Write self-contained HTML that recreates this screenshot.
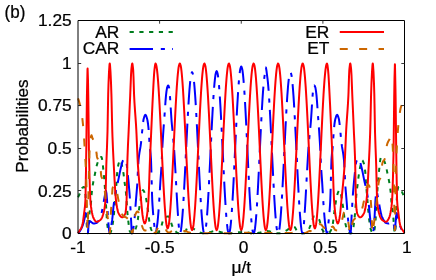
<!DOCTYPE html>
<html><head><meta charset="utf-8"><title>plot</title>
<style>
html,body{margin:0;padding:0;background:#fff;}
body{width:436px;height:280px;overflow:hidden;}
svg{display:block;will-change:transform;}
text{font-family:"Liberation Sans",sans-serif;font-size:16.6px;fill:#000;stroke:#000;stroke-width:0.25px;}
</style></head><body>
<svg width="436" height="280" viewBox="0 0 436 280">
<rect width="436" height="280" fill="#fff"/>
<g fill="none" stroke-width="2" stroke-linejoin="round" stroke-linecap="butt">
<path d="M78.00,197.29 L78.50,196.44 L79.00,195.40 L79.50,194.24 L80.00,193.03 L80.50,191.85 L81.00,190.59 L81.50,189.29 L82.00,188.26 L82.25,187.94 L82.50,187.71 L83.00,187.31 L83.50,187.03 L84.00,186.92 L84.50,187.95 L85.00,190.54 L85.20,191.85 L85.50,195.17 L86.00,204.60 L86.50,221.22 L86.60,223.30 L87.00,228.48 L87.50,232.71 L87.80,233.30 L88.00,232.61 L88.50,226.27 L88.60,225.00 L89.00,219.50 L89.50,213.10 L90.00,209.48 L90.50,206.67 L91.00,202.90 L91.50,195.62 L91.60,194.40 L92.00,190.62 L92.50,186.80 L92.90,184.20 L93.00,183.59 L93.50,180.86 L94.00,178.46 L94.50,176.15 L94.70,175.19 L95.00,173.70 L95.50,171.15 L96.00,168.68 L96.50,166.46 L96.75,165.50 L97.00,164.63 L97.50,163.01 L98.00,161.59 L98.50,160.40 L99.00,159.33 L99.50,158.37 L100.00,157.68 L100.20,157.51 L100.50,157.32 L101.00,157.07 L101.40,157.00 L101.50,157.06 L102.00,158.80 L102.30,160.40 L102.50,161.78 L103.00,166.52 L103.50,171.33 L104.00,176.55 L104.50,182.36 L104.75,185.56 L105.00,189.05 L105.50,196.69 L106.00,204.60 L106.50,213.41 L107.00,221.72 L107.25,224.49 L107.50,226.44 L108.00,229.54 L108.50,231.46 L109.00,232.63 L109.50,233.30 L109.75,233.30 L110.00,233.30 L110.50,232.71 L111.00,231.53 L111.50,230.05 L111.70,229.42 L112.00,228.27 L112.50,225.57 L113.00,222.12 L113.50,218.20 L114.00,213.30 L114.50,207.33 L115.00,201.20 L115.50,195.33 L116.00,189.31 L116.50,182.85 L116.60,181.48 L117.00,174.84 L117.20,172.30 L117.50,169.85 L118.00,166.50 L118.50,164.05 L119.00,162.44 L119.50,161.29 L120.00,160.41 L120.50,160.06 L121.00,160.99 L121.50,163.13 L122.00,165.50 L122.50,167.81 L123.00,170.47 L123.50,173.49 L124.00,177.24 L124.50,181.48 L124.75,183.52 L125.00,185.37 L125.50,188.85 L126.00,193.04 L126.50,199.62 L127.00,207.42 L127.30,211.40 L127.50,213.63 L128.00,218.67 L128.50,222.96 L129.00,226.99 L129.50,230.26 L129.75,231.12 L130.00,231.60 L130.50,232.43 L131.00,233.04 L131.50,233.30 L131.90,233.30 L132.00,233.30 L132.50,233.30 L133.00,233.04 L133.50,232.65 L134.00,232.11 L134.50,231.32 L135.00,230.32 L135.40,229.42 L135.50,229.18 L136.00,227.76 L136.50,226.01 L137.00,223.90 L137.50,221.45 L137.90,219.22 L138.00,218.57 L138.50,214.03 L139.00,209.53 L139.50,206.46 L140.00,203.80 L140.40,201.54 L140.50,200.90 L141.00,197.33 L141.50,194.40 L142.00,192.40 L142.50,190.80 L143.00,190.15 L143.50,190.56 L144.00,191.46 L144.20,191.85 L144.50,192.52 L145.00,194.00 L145.40,195.42 L145.50,195.81 L146.00,198.11 L146.50,200.87 L147.00,203.89 L147.25,205.45 L147.50,207.09 L148.00,210.68 L148.50,214.46 L149.00,218.71 L149.50,222.83 L149.75,224.32 L150.00,225.45 L150.50,227.39 L151.00,228.92 L151.50,230.10 L152.00,231.08 L152.50,231.94 L153.00,232.61 L153.50,232.99 L154.00,233.19 L154.50,233.30 L155.00,233.30 L155.50,233.30 L156.00,233.30 L156.50,233.20 L157.00,232.89 L157.50,232.52 L158.00,232.14 L158.50,231.72 L159.00,231.22 L159.50,230.61 L160.00,229.90 L160.40,229.25 L160.50,229.06 L161.00,227.73 L161.50,225.93 L162.00,223.92 L162.50,221.96 L163.00,220.31 L163.50,219.22 L164.00,218.53 L164.50,217.92 L165.00,217.42 L165.50,217.05 L166.00,216.84 L166.50,216.73 L167.00,216.63 L167.50,216.56 L168.00,216.52 L168.50,216.50 L169.00,216.93 L169.50,218.00 L170.00,219.38 L170.50,220.75 L171.00,222.20 L171.50,223.84 L172.00,225.38 L172.25,226.02 L172.50,226.59 L173.00,227.70 L173.50,228.73 L174.00,229.65 L174.50,230.40 L175.00,230.95 L175.50,231.37 L176.00,231.78 L176.50,232.15 L177.00,232.50 L177.50,232.80 L178.00,233.06 L178.50,233.26 L179.00,233.30 L179.50,233.30 L179.80,233.30 L180.00,233.30 L180.50,233.30 L181.00,233.30 L181.50,233.22 L182.00,233.05 L182.50,232.85 L183.00,232.61 L183.50,232.35 L184.00,232.07 L184.50,231.77 L185.00,231.46 L185.50,230.96 L186.00,230.19 L186.50,229.28 L187.00,228.34 L187.50,227.51 L188.00,226.92 L188.50,226.70 L189.00,226.73 L189.50,226.81 L190.00,226.92 L190.50,227.04 L191.00,227.21 L191.50,227.47 L192.00,227.77 L192.50,228.09 L193.00,228.40 L193.50,228.72 L194.00,229.07 L194.50,229.43 L195.00,229.78 L195.50,230.13 L196.00,230.44 L196.50,230.73 L197.00,231.03 L197.50,231.32 L198.00,231.59 L198.50,231.85 L199.00,232.09 L199.50,232.30 L200.00,232.48 L200.50,232.64 L201.00,232.81 L201.50,232.96 L202.00,233.11 L202.50,233.24 L203.00,233.30 L203.50,233.30 L204.00,233.30 L204.40,233.30 L204.50,233.30 L205.00,233.30 L205.50,233.30 L206.00,233.30 L206.50,233.18 L207.00,233.04 L207.50,232.88 L208.00,232.72 L208.50,232.56 L209.00,232.41 L209.50,232.26 L210.00,232.14 L210.50,232.02 L211.00,231.88 L211.50,231.74 L212.00,231.60 L212.50,231.47 L213.00,231.35 L213.50,231.25 L214.00,231.17 L214.50,231.13 L214.80,231.12 L215.00,231.12 L215.50,231.14 L216.00,231.19 L216.50,231.25 L217.00,231.31 L217.50,231.39 L218.00,231.46 L218.50,231.54 L219.00,231.65 L219.50,231.77 L220.00,231.90 L220.50,232.03 L221.00,232.17 L221.50,232.31 L222.00,232.43 L222.50,232.55 L223.00,232.65 L223.50,232.74 L224.00,232.84 L224.50,232.94 L225.00,233.03 L225.50,233.13 L226.00,233.22 L226.50,233.30 L227.00,233.30 L227.50,233.30 L228.00,233.30 L228.50,233.30 L228.90,233.30 L229.00,233.30 L229.50,233.30 L230.00,233.30 L230.50,233.30 L231.00,233.26 L231.50,233.15 L232.00,233.04 L232.50,232.93 L233.00,232.81 L233.50,232.70 L234.00,232.61 L234.50,232.53 L235.00,232.48 L235.50,232.44 L236.00,232.40 L236.50,232.36 L237.00,232.32 L237.50,232.29 L238.00,232.25 L238.50,232.22 L239.00,232.20 L239.50,232.18 L240.00,232.16 L240.50,232.15 L241.00,232.14 L241.25,232.14 L241.50,232.14 L242.00,232.15 L242.50,232.16 L243.00,232.18 L243.50,232.20 L244.00,232.22 L244.50,232.25 L245.00,232.29 L245.50,232.32 L246.00,232.36 L246.50,232.40 L247.00,232.44 L247.50,232.48 L248.00,232.53 L248.50,232.61 L249.00,232.70 L249.50,232.81 L250.00,232.93 L250.50,233.04 L251.00,233.15 L251.50,233.26 L252.00,233.30 L252.50,233.30 L253.00,233.30 L253.50,233.30 L253.60,233.30 L254.00,233.30 L254.50,233.30 L255.00,233.30 L255.50,233.30 L256.00,233.30 L256.50,233.22 L257.00,233.13 L257.50,233.03 L258.00,232.94 L258.50,232.84 L259.00,232.74 L259.50,232.65 L260.00,232.55 L260.50,232.43 L261.00,232.31 L261.50,232.17 L262.00,232.03 L262.50,231.90 L263.00,231.77 L263.50,231.65 L264.00,231.54 L264.50,231.46 L265.00,231.39 L265.50,231.31 L266.00,231.25 L266.50,231.19 L267.00,231.14 L267.50,231.12 L267.70,231.12 L268.00,231.13 L268.50,231.17 L269.00,231.25 L269.50,231.35 L270.00,231.47 L270.50,231.60 L271.00,231.74 L271.50,231.88 L272.00,232.02 L272.50,232.14 L273.00,232.26 L273.50,232.41 L274.00,232.56 L274.50,232.72 L275.00,232.88 L275.50,233.04 L276.00,233.18 L276.50,233.30 L277.00,233.30 L277.50,233.30 L278.00,233.30 L278.10,233.30 L278.50,233.30 L279.00,233.30 L279.50,233.30 L280.00,233.24 L280.50,233.11 L281.00,232.96 L281.50,232.81 L282.00,232.64 L282.50,232.48 L283.00,232.30 L283.50,232.09 L284.00,231.85 L284.50,231.59 L285.00,231.32 L285.50,231.03 L286.00,230.73 L286.50,230.44 L287.00,230.13 L287.50,229.78 L288.00,229.43 L288.50,229.07 L289.00,228.72 L289.50,228.40 L290.00,228.09 L290.50,227.77 L291.00,227.47 L291.50,227.21 L292.00,227.04 L292.50,226.92 L293.00,226.81 L293.50,226.73 L294.00,226.70 L294.50,226.92 L295.00,227.51 L295.50,228.34 L296.00,229.28 L296.50,230.19 L297.00,230.96 L297.50,231.46 L298.00,231.77 L298.50,232.07 L299.00,232.35 L299.50,232.61 L300.00,232.85 L300.50,233.05 L301.00,233.22 L301.50,233.30 L302.00,233.30 L302.50,233.30 L302.70,233.30 L303.00,233.30 L303.50,233.30 L304.00,233.26 L304.50,233.06 L305.00,232.80 L305.50,232.50 L306.00,232.15 L306.50,231.78 L307.00,231.37 L307.50,230.95 L308.00,230.40 L308.50,229.65 L309.00,228.73 L309.50,227.70 L310.00,226.59 L310.25,226.02 L310.50,225.38 L311.00,223.84 L311.50,222.20 L312.00,220.75 L312.50,219.38 L313.00,218.00 L313.50,216.93 L314.00,216.50 L314.50,216.52 L315.00,216.56 L315.50,216.63 L316.00,216.73 L316.50,216.84 L317.00,217.05 L317.50,217.42 L318.00,217.92 L318.50,218.53 L319.00,219.22 L319.50,220.31 L320.00,221.96 L320.50,223.92 L321.00,225.93 L321.50,227.73 L322.00,229.06 L322.10,229.25 L322.50,229.90 L323.00,230.61 L323.50,231.22 L324.00,231.72 L324.50,232.14 L325.00,232.52 L325.50,232.89 L326.00,233.20 L326.50,233.30 L327.00,233.30 L327.50,233.30 L328.00,233.30 L328.50,233.19 L329.00,232.99 L329.50,232.61 L330.00,231.94 L330.50,231.08 L331.00,230.10 L331.50,228.92 L332.00,227.39 L332.50,225.45 L332.75,224.32 L333.00,222.83 L333.50,218.71 L334.00,214.46 L334.50,210.68 L335.00,207.09 L335.25,205.45 L335.50,203.89 L336.00,200.87 L336.50,198.11 L337.00,195.81 L337.10,195.42 L337.50,194.00 L338.00,192.52 L338.30,191.85 L338.50,191.46 L339.00,190.56 L339.50,190.15 L340.00,190.80 L340.50,192.40 L341.00,194.40 L341.50,197.33 L342.00,200.90 L342.10,201.54 L342.50,203.80 L343.00,206.46 L343.50,209.53 L344.00,214.03 L344.50,218.57 L344.60,219.22 L345.00,221.45 L345.50,223.90 L346.00,226.01 L346.50,227.76 L347.00,229.18 L347.10,229.42 L347.50,230.32 L348.00,231.32 L348.50,232.11 L349.00,232.65 L349.50,233.04 L350.00,233.30 L350.50,233.30 L350.60,233.30 L351.00,233.30 L351.50,233.04 L352.00,232.43 L352.50,231.60 L352.75,231.12 L353.00,230.26 L353.50,226.99 L354.00,222.96 L354.50,218.67 L355.00,213.63 L355.20,211.40 L355.50,207.42 L356.00,199.62 L356.50,193.04 L357.00,188.85 L357.50,185.37 L357.75,183.52 L358.00,181.48 L358.50,177.24 L359.00,173.49 L359.50,170.47 L360.00,167.81 L360.50,165.50 L361.00,163.13 L361.50,160.99 L362.00,160.06 L362.50,160.41 L363.00,161.29 L363.50,162.44 L364.00,164.05 L364.50,166.50 L365.00,169.85 L365.30,172.30 L365.50,174.84 L365.90,181.48 L366.00,182.85 L366.50,189.31 L367.00,195.33 L367.50,201.20 L368.00,207.33 L368.50,213.30 L369.00,218.20 L369.50,222.12 L370.00,225.57 L370.50,228.27 L370.80,229.42 L371.00,230.05 L371.50,231.53 L372.00,232.71 L372.50,233.30 L372.75,233.30 L373.00,233.30 L373.50,232.63 L374.00,231.46 L374.50,229.54 L375.00,226.44 L375.25,224.49 L375.50,221.72 L376.00,213.41 L376.50,204.60 L377.00,196.69 L377.50,189.05 L377.75,185.56 L378.00,182.36 L378.50,176.55 L379.00,171.33 L379.50,166.52 L380.00,161.78 L380.20,160.40 L380.50,158.80 L381.00,157.06 L381.10,157.00 L381.50,157.07 L382.00,157.32 L382.30,157.51 L382.50,157.68 L383.00,158.37 L383.50,159.33 L384.00,160.40 L384.50,161.59 L385.00,163.01 L385.50,164.63 L385.75,165.50 L386.00,166.46 L386.50,168.68 L387.00,171.15 L387.50,173.70 L387.80,175.19 L388.00,176.15 L388.50,178.46 L389.00,180.86 L389.50,183.59 L389.60,184.20 L390.00,186.80 L390.50,190.62 L390.90,194.40 L391.00,195.62 L391.50,202.90 L392.00,206.67 L392.50,209.48 L393.00,213.10 L393.50,219.50 L393.90,225.00 L394.00,226.27 L394.50,232.61 L394.70,233.30 L395.00,232.71 L395.50,228.48 L395.90,223.30 L396.00,221.22 L396.50,204.60 L397.00,195.17 L397.30,191.85 L397.50,190.54 L398.00,187.95 L398.50,186.92 L399.00,187.03 L399.50,187.31 L400.00,187.71 L400.25,187.94 L400.50,188.26 L401.00,189.29 L401.50,190.59 L402.00,191.85 L402.50,193.03 L403.00,194.24 L403.50,195.40 L404.00,196.44 L404.50,197.29" stroke="#007d1e" stroke-dasharray="4.2 5.55"/>
<path d="M78.00,233.30 L78.50,233.00 L79.00,232.40 L79.50,231.71 L80.00,230.95 L80.50,230.11 L81.00,229.19 L81.50,228.17 L82.00,227.04 L82.50,225.81 L83.00,224.45 L83.50,222.96 L84.00,221.09 L84.50,218.81 L85.00,216.50 L85.50,213.74 L85.75,213.10 L86.00,213.75 L86.50,217.38 L86.60,218.20 L87.00,223.59 L87.50,231.56 L87.80,233.30 L88.00,232.37 L88.50,225.77 L88.60,225.00 L89.00,223.01 L89.50,221.34 L89.75,221.09 L90.00,221.14 L90.50,221.44 L91.00,221.88 L91.50,222.28 L92.00,222.64 L92.50,223.03 L93.00,223.34 L93.50,223.47 L94.00,223.45 L94.50,223.41 L95.00,223.34 L95.50,223.25 L96.00,223.13 L96.50,222.99 L96.60,222.96 L97.00,222.74 L97.50,222.23 L98.00,221.53 L98.50,220.73 L99.00,219.90 L99.50,219.03 L100.00,218.04 L100.50,216.87 L101.00,215.48 L101.50,213.61 L102.00,211.22 L102.50,208.58 L102.90,206.47 L103.00,205.95 L103.50,203.11 L104.00,200.14 L104.50,197.34 L104.75,196.10 L105.00,194.82 L105.50,192.23 L106.00,191.00 L106.50,193.77 L107.00,199.50 L107.50,208.99 L107.90,216.50 L108.00,217.80 L108.50,224.23 L109.00,229.71 L109.50,233.03 L109.75,233.30" stroke="#0000ff" stroke-dasharray="23.4 7.8 4.1 7.3"/>
<path d="M109.75,233.30 L110.00,233.02 L110.50,230.12 L111.00,226.70 L111.50,223.95 L112.00,220.98 L112.25,219.22 L112.50,217.02 L113.00,211.56 L113.50,206.47 L114.00,202.48 L114.50,198.87 L115.00,195.61 L115.50,192.70 L116.00,190.15 L116.50,187.89 L117.00,185.78 L117.50,183.69 L118.00,181.48 L118.50,179.09 L119.00,176.60 L119.50,174.08 L120.00,171.62 L120.50,169.30 L121.00,167.20 L121.50,165.19 L122.00,163.23 L122.50,161.56 L123.00,160.40 L123.50,159.59 L124.00,158.96 L124.50,158.70 L125.00,159.03 L125.50,159.91 L126.00,161.20 L126.30,162.10 L126.50,162.95 L127.00,166.66 L127.50,171.64 L127.90,175.70 L128.00,176.67 L128.50,181.65 L129.00,187.05 L129.50,193.10 L129.75,196.44 L130.00,200.23 L130.50,209.11 L131.00,218.20 L131.50,228.82 L131.90,233.30 L132.00,233.30 L132.50,232.21 L133.00,230.10 L133.50,227.35 L134.00,223.55 L134.50,218.99 L134.75,216.50 L135.00,213.56 L135.50,206.38 L135.75,202.90 L136.00,199.78 L136.50,193.95 L137.00,187.76 L137.25,184.20 L137.50,179.73 L138.00,168.89 L138.50,160.40 L139.00,155.84 L139.50,152.45 L140.00,149.61 L140.50,146.69 L141.00,143.06 L141.50,138.24 L142.00,132.95 L142.25,130.48 L142.50,128.02 L143.00,123.04 L143.50,119.60 L144.00,117.69 L144.50,116.12 L145.00,115.12 L145.40,114.84 L145.50,114.86 L146.00,115.47 L146.50,116.75 L147.00,118.46 L147.30,119.60 L147.50,120.50 L148.00,123.75 L148.50,128.10 L149.00,134.83 L149.50,143.01 L149.75,146.46 L150.00,149.05 L150.50,153.17 L151.00,159.21 L151.50,175.56 L151.60,179.10 L152.00,193.58 L152.25,200.52 L152.50,205.00 L153.00,212.13 L153.50,217.62 L154.00,222.36 L154.10,223.30 L154.50,227.42 L155.00,232.00 L155.40,233.30 L155.50,233.30 L156.00,232.14 L156.50,229.47 L157.00,226.08 L157.25,224.32 L157.50,222.35 L158.00,217.25 L158.50,211.05 L159.00,204.27 L159.10,202.90 L159.50,196.73 L160.00,188.08 L160.40,181.48 L160.50,180.00 L161.00,173.32 L161.50,166.06 L161.60,164.31 L162.00,154.94 L162.25,149.18 L162.50,144.56 L163.00,136.42 L163.40,130.48 L163.50,129.04 L164.00,122.31 L164.50,115.83 L164.60,114.50 L165.00,108.71 L165.50,101.32 L166.00,95.46 L166.50,91.21 L167.00,88.06 L167.20,87.30 L167.50,86.47 L168.00,85.53 L168.20,85.43 L168.50,85.74 L169.00,87.29 L169.20,88.15 L169.50,90.58 L169.90,95.46 L170.00,96.72 L170.50,104.19 L171.00,112.48 L171.50,120.02 L171.60,121.30 L172.00,125.78 L172.50,130.74 L172.90,134.90 L173.00,136.01 L173.50,141.64 L174.00,147.82 L174.10,149.18 L174.50,155.31 L175.00,163.80 L175.50,172.54 L176.00,181.48 L176.50,190.58 L177.00,199.67 L177.50,208.00 L178.00,215.77 L178.50,222.96 L179.00,228.40 L179.50,232.48 L179.80,233.30 L180.00,233.30 L180.50,232.01 L180.83,230.75 L181.00,229.88 L181.50,226.02 L181.85,222.69 L182.00,221.16 L182.50,215.06 L182.88,209.87 L183.00,208.06 L183.50,200.08 L183.90,193.17 L184.00,191.39 L184.50,182.03 L184.93,173.71 L185.00,172.23 L185.50,162.08 L185.95,152.83 L186.00,151.81 L186.50,141.53 L186.98,131.96 L187.00,131.47 L187.50,121.72 L188.00,112.50 L188.50,103.92 L189.00,96.15 L189.03,95.80 L189.50,89.29 L190.00,83.47 L190.05,82.98 L190.50,78.76 L191.00,75.25 L191.08,74.92 L191.50,73.31 L192.00,72.21 L192.10,72.17 L192.50,72.72 L193.00,74.42 L193.12,74.92 L193.50,77.13 L194.00,81.53 L194.15,82.98 L194.50,86.79 L195.00,93.34 L195.18,95.80 L195.50,100.68 L196.00,109.01 L196.20,112.50 L196.50,117.94 L197.00,127.54 L197.23,131.96 L197.50,137.45 L198.00,147.71 L198.25,152.83 L198.50,157.96 L199.00,168.22 L199.28,173.71 L199.50,178.13 L200.00,187.73 L200.30,193.17 L200.50,196.66 L201.00,204.99 L201.33,209.87 L201.50,212.33 L202.00,218.88 L202.35,222.69 L202.50,224.14 L203.00,228.54 L203.38,230.75 L203.50,231.25 L204.00,232.95 L204.40,233.30 L204.50,233.30 L205.00,232.34 L205.42,230.73 L205.50,230.38 L206.00,226.81 L206.44,222.62 L206.50,222.04 L207.00,216.13 L207.46,209.72 L207.50,209.18 L208.00,201.30 L208.48,192.91 L208.50,192.62 L209.00,183.27 L209.50,173.42 L209.50,173.33 L210.00,163.23 L210.50,152.84 L210.53,152.33 L211.00,142.46 L211.50,132.23 L211.55,131.32 L212.00,122.35 L212.50,112.93 L212.57,111.74 L213.00,104.19 L213.50,96.20 L213.59,94.93 L214.00,89.18 L214.50,83.13 L214.61,82.03 L215.00,78.28 L215.50,74.53 L215.63,73.92 L216.00,72.48 L216.50,71.24 L216.65,71.15 L217.00,71.58 L217.50,73.23 L217.67,73.92 L218.00,75.81 L218.50,80.16 L218.69,82.03 L219.00,85.38 L219.50,91.92 L219.71,94.93 L220.00,99.27 L220.50,107.63 L220.73,111.74 L221.00,116.60 L221.50,126.27 L221.75,131.32 L222.00,136.27 L222.50,146.63 L222.78,152.32 L223.00,156.98 L223.50,167.35 L223.80,173.33 L224.00,177.39 L224.50,187.10 L224.82,192.91 L225.00,196.14 L225.50,204.59 L225.84,209.72 L226.00,212.03 L226.50,218.67 L226.86,222.62 L227.00,224.01 L227.50,228.47 L227.88,230.73 L228.00,231.22 L228.50,232.94 L228.90,233.30 L229.00,233.30 L229.50,232.33 L229.93,230.66 L230.00,230.33 L230.50,226.74 L230.96,222.32 L231.00,221.90 L231.50,215.92 L231.99,209.05 L232.00,208.87 L232.50,200.89 L233.00,192.07 L233.02,191.76 L233.50,182.60 L234.00,172.56 L234.05,171.63 L234.50,162.21 L235.00,151.61 L235.07,150.03 L235.50,141.03 L236.00,130.55 L236.10,128.43 L236.50,120.44 L237.00,110.74 L237.13,108.30 L237.50,101.76 L238.00,93.45 L238.16,91.01 L238.50,86.18 L239.00,79.79 L239.19,77.74 L239.50,74.71 L240.00,70.58 L240.22,69.40 L240.50,68.28 L241.00,66.79 L241.25,66.56 L241.50,66.79 L242.00,68.28 L242.28,69.40 L242.50,70.58 L243.00,74.71 L243.31,77.74 L243.50,79.79 L244.00,86.18 L244.34,91.01 L244.50,93.45 L245.00,101.76 L245.37,108.30 L245.50,110.74 L246.00,120.44 L246.40,128.43 L246.50,130.55 L247.00,141.03 L247.43,150.03 L247.50,151.61 L248.00,162.21 L248.45,171.63 L248.50,172.56 L249.00,182.60 L249.48,191.76 L249.50,192.07 L250.00,200.89 L250.50,208.87 L250.51,209.05 L251.00,215.92 L251.50,221.90 L251.54,222.32 L252.00,226.74 L252.50,230.33 L252.57,230.66 L253.00,232.33 L253.50,233.30 L253.60,233.30 L254.00,232.94 L254.50,231.22 L254.62,230.73 L255.00,228.47 L255.50,224.01 L255.64,222.62 L256.00,218.67 L256.50,212.03 L256.66,209.72 L257.00,204.59 L257.50,196.14 L257.68,192.91 L258.00,187.10 L258.50,177.39 L258.70,173.33 L259.00,167.35 L259.50,156.98 L259.73,152.32 L260.00,146.63 L260.50,136.27 L260.75,131.32 L261.00,126.27 L261.50,116.60 L261.77,111.74 L262.00,107.63 L262.50,99.27 L262.79,94.93 L263.00,91.92 L263.50,85.38 L263.81,82.03 L264.00,80.25 L264.50,76.25 L264.83,73.92 L265.00,72.62 L265.50,68.75 L265.85,67.58 L266.00,67.82 L266.50,70.97 L266.87,73.92 L267.00,74.82 L267.50,78.55 L267.89,82.03 L268.00,83.13 L268.50,89.18 L268.91,94.93 L269.00,96.20 L269.50,104.19 L269.93,111.74 L270.00,112.93 L270.50,122.35 L270.95,131.32 L271.00,132.23 L271.50,142.46 L271.98,152.33 L272.00,152.84 L272.50,163.23 L273.00,173.33 L273.00,173.42 L273.50,183.27 L274.00,192.62 L274.02,192.91 L274.50,201.30 L275.00,209.18 L275.04,209.72 L275.50,216.13 L276.00,222.04 L276.06,222.62 L276.50,226.81 L277.00,230.38 L277.08,230.73 L277.50,232.34 L278.00,233.30 L278.10,233.30 L278.50,232.95 L279.00,231.25 L279.12,230.75 L279.50,228.54 L280.00,224.14 L280.15,222.69 L280.50,218.88 L281.00,212.33 L281.17,209.87 L281.50,204.99 L282.00,196.66 L282.20,193.17 L282.50,187.73 L283.00,178.13 L283.23,173.71 L283.50,168.22 L284.00,157.96 L284.25,152.83 L284.50,147.71 L285.00,137.45 L285.27,131.96 L285.50,127.54 L286.00,117.94 L286.30,112.50 L286.50,109.01 L287.00,100.68 L287.32,95.80 L287.50,93.34 L288.00,86.79 L288.35,82.98 L288.50,81.53 L289.00,77.13 L289.38,74.92 L289.50,74.42 L290.00,72.72 L290.40,72.17 L290.50,72.21 L291.00,73.31 L291.42,74.92 L291.50,75.25 L292.00,78.76 L292.45,82.98 L292.50,83.47 L293.00,89.29 L293.48,95.80 L293.50,96.15 L294.00,103.92 L294.50,112.50 L295.00,121.72 L295.50,131.47 L295.52,131.96 L296.00,141.53 L296.50,151.81 L296.55,152.83 L297.00,162.08 L297.50,172.23 L297.57,173.71 L298.00,182.03 L298.50,191.39 L298.60,193.17 L299.00,200.08 L299.50,208.06 L299.62,209.87 L300.00,215.06 L300.50,221.16 L300.65,222.69 L301.00,226.02 L301.50,229.88 L301.67,230.75 L302.00,232.01 L302.50,233.30 L302.70,233.30 L303.00,232.48 L303.50,228.40 L304.00,222.96 L304.50,215.77 L305.00,208.00 L305.50,199.67 L306.00,190.58 L306.50,181.48 L307.00,172.54 L307.50,163.80 L308.00,155.31 L308.40,149.18 L308.50,147.82 L309.00,141.64 L309.50,136.01 L309.60,134.90 L310.00,130.74 L310.50,125.78 L310.90,121.30 L311.00,120.02 L311.50,112.48 L312.00,104.19 L312.50,96.72 L312.60,95.46 L313.00,90.58 L313.30,88.15 L313.50,87.29 L314.00,85.74 L314.30,85.43 L314.50,85.53 L315.00,86.47 L315.30,87.30 L315.50,88.06 L316.00,91.21 L316.50,95.46 L317.00,101.32 L317.50,108.71 L317.90,114.50 L318.00,115.83 L318.50,122.31 L319.00,129.04 L319.10,130.48 L319.50,136.42 L320.00,144.56 L320.25,149.18 L320.50,154.94 L320.90,164.31 L321.00,166.06 L321.50,173.32 L322.00,180.00 L322.10,181.48 L322.50,188.08 L323.00,196.73 L323.40,202.90 L323.50,204.27 L324.00,211.05 L324.50,217.25 L325.00,222.35 L325.25,224.32 L325.50,226.08 L326.00,229.47 L326.50,232.14 L327.00,233.30 L327.10,233.30 L327.50,232.00 L328.00,227.42 L328.40,223.30 L328.50,222.36 L329.00,217.62 L329.50,212.13 L330.00,205.00 L330.25,200.52 L330.50,193.58 L330.90,179.10 L331.00,175.56 L331.50,159.21 L332.00,153.17 L332.50,149.05 L332.75,146.46 L333.00,143.01 L333.50,134.83 L334.00,128.10 L334.50,123.75 L335.00,120.50 L335.20,119.60 L335.50,118.46 L336.00,116.75 L336.50,115.47 L337.00,114.86 L337.10,114.84 L337.50,115.12 L338.00,116.12 L338.50,117.69 L339.00,119.60 L339.50,123.04 L340.00,128.02 L340.25,130.48 L340.50,132.95 L341.00,138.24 L341.50,143.06 L342.00,146.69 L342.50,149.61 L343.00,152.45 L343.50,155.84 L344.00,160.40 L344.50,168.89 L345.00,179.73 L345.25,184.20 L345.50,187.76 L346.00,193.95 L346.50,199.78 L346.75,202.90 L347.00,206.38 L347.50,213.56 L347.75,216.50 L348.00,218.99 L348.50,223.55 L349.00,227.35 L349.50,230.10 L350.00,232.21 L350.50,233.30 L350.60,233.30 L351.00,228.82 L351.50,218.20 L352.00,209.11 L352.50,200.23 L352.75,196.44 L353.00,193.10 L353.50,187.05 L354.00,181.65 L354.50,176.67 L354.60,175.70 L355.00,171.64 L355.50,166.66 L356.00,162.95 L356.20,162.10 L356.50,161.20 L357.00,159.91 L357.50,159.03 L358.00,158.70 L358.50,158.96 L359.00,159.59 L359.50,160.40 L360.00,161.56 L360.50,163.23 L361.00,165.19 L361.50,167.20 L362.00,169.30 L362.50,171.62 L363.00,174.08 L363.50,176.60 L364.00,179.09 L364.50,181.48 L365.00,183.69 L365.50,185.78 L366.00,187.89 L366.50,190.15 L367.00,192.70 L367.50,195.61 L368.00,198.87 L368.50,202.48 L369.00,206.47 L369.50,211.56 L370.00,217.02 L370.25,219.22 L370.50,220.98 L371.00,223.95 L371.50,226.70 L372.00,230.12 L372.50,233.02 L372.75,233.30 L373.00,233.03 L373.50,229.71 L374.00,224.23 L374.50,217.80 L374.60,216.50 L375.00,208.99 L375.50,199.50 L376.00,193.77 L376.50,191.00 L377.00,192.23 L377.50,194.82 L377.75,196.10 L378.00,197.34 L378.50,200.14 L379.00,203.11 L379.50,205.95 L379.60,206.47 L380.00,208.58 L380.50,211.22 L381.00,213.61 L381.50,215.48 L382.00,216.87 L382.50,218.04 L383.00,219.03 L383.50,219.90 L384.00,220.73 L384.50,221.53 L385.00,222.23 L385.50,222.74 L385.90,222.96 L386.00,222.99 L386.50,223.13 L387.00,223.25 L387.50,223.34 L388.00,223.41 L388.50,223.45 L389.00,223.47 L389.50,223.34 L390.00,223.03 L390.50,222.64 L391.00,222.28 L391.50,221.88 L392.00,221.44 L392.50,221.14 L392.75,221.09 L393.00,221.34 L393.50,223.01 L393.90,225.00 L394.00,225.77 L394.50,232.37 L394.70,233.30 L395.00,231.56 L395.50,223.59 L395.90,218.20 L396.00,217.38 L396.50,213.75 L396.75,213.10 L397.00,213.74 L397.50,216.50 L398.00,218.81 L398.50,221.09 L399.00,222.96 L399.50,224.45 L400.00,225.81 L400.50,227.04 L401.00,228.17 L401.50,229.19 L402.00,230.11 L402.50,230.95 L403.00,231.71 L403.50,232.40 L404.00,233.00 L404.50,233.30" stroke="#0000ff" stroke-dasharray="23.4 7.8 4.1 7.3" stroke-dashoffset="34.1"/>
<path d="M78.00,232.99 L78.50,232.25 L79.00,231.46 L79.50,230.69 L80.00,229.98 L80.50,229.25 L81.00,228.42 L81.50,227.44 L82.00,226.23 L82.25,225.51 L82.50,224.56 L83.00,221.69 L83.50,217.96 L84.00,213.91 L84.10,213.10 L84.50,210.20 L85.00,206.00 L85.40,200.52 L85.50,198.06 L86.00,170.12 L86.30,148.50 L86.50,131.57 L86.90,97.50 L87.00,91.78 L87.50,69.51 L87.60,68.60 L88.00,80.63 L88.30,97.50 L88.50,113.38 L88.90,148.50 L89.00,153.65 L89.50,176.23 L90.00,192.66 L90.40,200.52 L90.50,201.78 L91.00,206.69 L91.50,209.99 L91.60,210.55 L92.00,212.65 L92.50,214.93 L93.00,216.76 L93.50,218.03 L94.00,218.97 L94.50,219.83 L95.00,220.58 L95.50,221.18 L96.00,221.58 L96.50,221.76 L96.60,221.77 L97.00,221.74 L97.50,221.64 L98.00,221.46 L98.50,221.22 L99.00,220.92 L99.50,220.56 L100.00,220.15 L100.50,219.70 L101.00,219.22 L101.50,218.56 L102.00,217.60 L102.50,216.34 L103.00,214.81 L103.50,213.02 L104.00,210.98 L104.10,210.55 L104.50,208.59 L105.00,204.98 L105.40,200.52 L105.50,198.58 L106.00,178.09 L106.30,165.50 L106.50,159.45 L107.00,146.75 L107.50,131.50 L108.00,103.70 L108.20,94.10 L108.50,83.93 L109.00,72.00 L109.50,64.81 L109.75,63.50 L110.00,64.85 L110.50,72.00 L111.00,82.59 L111.40,94.10 L111.50,97.52 L112.00,119.85 L112.30,131.50 L112.50,137.23 L113.00,149.50 L113.50,159.78 L113.80,165.50 L114.00,169.31 L114.50,178.86 L115.00,187.78 L115.50,195.27 L116.00,200.52 L116.50,204.15 L117.00,207.27 L117.50,209.83 L118.00,211.79 L118.50,213.10 L119.00,214.03 L119.50,214.88 L120.00,215.64 L120.50,216.28 L121.00,216.78 L121.50,217.14 L122.00,217.33 L122.25,217.35 L122.50,217.32 L123.00,217.11 L123.50,216.68 L124.00,216.04 L124.50,215.18 L125.00,214.11 L125.40,213.10 L125.50,212.77 L126.00,209.25 L126.50,202.34 L126.60,200.52 L127.00,182.50 L127.30,164.31 L127.50,157.31 L128.00,144.46 L128.50,134.26 L128.70,129.80 L129.00,122.77 L129.50,111.33 L130.00,100.02 L130.20,95.46 L130.50,87.88 L131.00,75.24 L131.30,70.30 L131.50,68.18 L132.00,64.14 L132.25,63.50 L132.50,64.11 L133.00,68.09 L133.20,70.30 L133.50,76.96 L134.00,93.06 L134.10,95.46 L134.50,102.95 L135.00,110.56 L135.50,117.40 L136.00,124.69 L136.30,129.80 L136.50,133.77 L137.00,145.39 L137.50,157.13 L137.90,164.65 L138.00,166.16 L138.50,173.10 L139.00,179.17 L139.50,184.62 L140.00,189.66 L140.50,194.54 L141.00,199.50 L141.50,204.85 L142.00,210.26 L142.50,214.96 L143.00,218.20 L143.50,220.39 L144.00,222.22 L144.50,223.32 L144.75,223.47 L145.00,223.32 L145.50,222.22 L146.00,220.39 L146.50,218.20 L147.00,215.37 L147.50,211.34 L148.00,206.07 L148.50,199.50 L149.00,187.93 L149.50,172.46 L149.75,165.50 L150.00,159.37 L150.50,147.68 L151.00,136.46 L151.30,129.80 L151.50,125.33 L152.00,114.15 L152.50,103.39 L152.90,95.46 L153.00,93.56 L153.50,83.81 L154.00,75.14 L154.40,70.30 L154.50,69.41 L155.00,65.34 L155.50,63.50 L156.00,64.36 L156.50,66.26 L156.51,66.31 L157.00,69.53 L157.50,74.30 L157.53,74.55 L158.00,80.10 L158.50,87.10 L158.54,87.65 L159.00,95.00 L159.50,103.82 L159.55,104.73 L160.00,113.28 L160.50,123.34 L160.56,124.61 L161.00,133.73 L161.50,144.37 L161.57,145.95 L162.00,154.98 L162.50,165.50 L162.59,167.29 L163.00,175.64 L163.50,185.34 L163.60,187.17 L164.00,194.32 L164.50,202.57 L164.61,204.25 L165.00,209.79 L165.50,216.04 L165.62,217.35 L166.00,221.03 L166.50,224.91 L166.64,225.59 L167.00,227.03 L167.50,228.31 L167.65,228.40 L168.00,227.95 L168.50,226.26 L168.66,225.59 L169.00,223.58 L169.50,219.10 L169.68,217.35 L170.00,213.71 L170.50,206.97 L170.69,204.25 L171.00,199.40 L171.50,190.78 L171.70,187.17 L172.00,181.55 L172.50,171.61 L172.71,167.29 L173.00,161.34 L173.50,150.72 L173.73,145.95 L174.00,140.11 L174.50,129.51 L174.74,124.61 L175.00,119.28 L175.50,109.39 L175.75,104.73 L176.00,100.22 L176.50,91.69 L176.76,87.65 L177.00,84.21 L177.50,77.58 L177.78,74.55 L178.00,72.31 L178.50,67.95 L178.79,66.31 L179.00,65.44 L179.50,63.83 L179.80,63.50 L180.00,63.65 L180.50,65.04 L180.83,66.34 L181.00,67.23 L181.50,71.22 L181.85,74.66 L182.00,76.24 L182.50,82.54 L182.88,87.90 L183.00,89.77 L183.50,98.02 L183.90,105.15 L184.00,106.98 L184.50,116.66 L184.93,125.24 L185.00,126.77 L185.50,137.25 L185.95,146.80 L186.00,147.85 L186.50,158.47 L186.98,168.36 L187.00,168.87 L187.50,178.93 L188.00,188.45 L188.50,197.31 L189.00,205.33 L189.03,205.70 L189.50,212.42 L190.00,218.43 L190.05,218.94 L190.50,223.30 L191.00,226.92 L191.08,227.26 L191.50,228.92 L192.00,230.06 L192.10,230.10 L192.50,229.53 L193.00,227.78 L193.12,227.26 L193.50,224.98 L194.00,220.43 L194.15,218.94 L194.50,215.00 L195.00,208.24 L195.18,205.70 L195.50,200.66 L196.00,192.05 L196.20,188.45 L196.50,182.84 L197.00,172.92 L197.23,168.36 L197.50,162.68 L198.00,152.09 L198.25,146.80 L198.50,141.51 L199.00,130.92 L199.28,125.24 L199.50,120.68 L200.00,110.76 L200.30,105.15 L200.50,101.55 L201.00,92.94 L201.33,87.90 L201.50,85.36 L202.00,78.60 L202.35,74.66 L202.50,73.17 L203.00,68.62 L203.38,66.34 L203.50,65.82 L204.00,64.07 L204.40,63.50 L204.50,63.54 L205.00,64.69 L205.42,66.34 L205.50,66.70 L206.00,70.36 L206.44,74.66 L206.50,75.26 L207.00,81.33 L207.46,87.90 L207.50,88.45 L208.00,96.54 L208.48,105.15 L208.50,105.45 L209.00,115.04 L209.50,125.16 L209.50,125.24 L210.00,135.61 L210.50,146.27 L210.53,146.80 L211.00,156.92 L211.50,167.42 L211.55,168.36 L212.00,177.56 L212.50,187.23 L212.57,188.45 L213.00,196.19 L213.50,204.39 L213.59,205.70 L214.00,211.60 L214.50,217.81 L214.61,218.94 L215.00,222.78 L215.50,226.63 L215.63,227.26 L216.00,228.74 L216.50,230.01 L216.65,230.10 L217.00,229.65 L217.50,227.96 L217.67,227.26 L218.00,225.32 L218.50,220.85 L218.69,218.94 L219.00,215.50 L219.50,208.79 L219.71,205.70 L220.00,201.25 L220.50,192.66 L220.73,188.45 L221.00,183.46 L221.50,173.53 L221.75,168.36 L222.00,163.27 L222.50,152.65 L222.78,146.80 L223.00,142.02 L223.50,131.38 L223.80,125.24 L224.00,121.08 L224.50,111.11 L224.82,105.15 L225.00,101.83 L225.50,93.17 L225.84,87.90 L226.00,85.53 L226.50,78.72 L226.86,74.66 L227.00,73.24 L227.50,68.66 L227.88,66.34 L228.00,65.84 L228.50,64.07 L228.90,63.50 L229.00,63.54 L229.50,64.67 L229.93,66.34 L230.00,66.66 L230.50,70.24 L230.96,74.66 L231.00,75.08 L231.50,81.04 L231.99,87.90 L232.00,88.08 L232.50,96.04 L233.00,104.85 L233.02,105.15 L233.50,114.30 L234.00,124.31 L234.05,125.24 L234.50,134.65 L235.00,145.23 L235.07,146.80 L235.50,155.78 L236.00,166.24 L236.10,168.36 L236.50,176.33 L237.00,186.01 L237.13,188.45 L237.50,194.98 L238.00,203.26 L238.16,205.70 L238.50,210.52 L239.00,216.90 L239.19,218.94 L239.50,221.97 L240.00,226.09 L240.22,227.26 L240.50,228.38 L241.00,229.87 L241.25,230.10 L241.50,229.87 L242.00,228.38 L242.28,227.26 L242.50,226.09 L243.00,221.97 L243.31,218.94 L243.50,216.90 L244.00,210.52 L244.34,205.70 L244.50,203.26 L245.00,194.98 L245.37,188.45 L245.50,186.01 L246.00,176.33 L246.40,168.36 L246.50,166.24 L247.00,155.78 L247.43,146.80 L247.50,145.23 L248.00,134.65 L248.45,125.24 L248.50,124.31 L249.00,114.30 L249.48,105.15 L249.50,104.85 L250.00,96.04 L250.50,88.08 L250.51,87.90 L251.00,81.04 L251.50,75.08 L251.54,74.66 L252.00,70.24 L252.50,66.66 L252.57,66.34 L253.00,64.67 L253.50,63.54 L253.60,63.50 L254.00,64.07 L254.50,65.84 L254.62,66.34 L255.00,68.66 L255.50,73.24 L255.64,74.66 L256.00,78.72 L256.50,85.53 L256.66,87.90 L257.00,93.17 L257.50,101.83 L257.68,105.15 L258.00,111.11 L258.50,121.08 L258.70,125.24 L259.00,131.38 L259.50,142.02 L259.73,146.80 L260.00,152.65 L260.50,163.27 L260.75,168.36 L261.00,173.53 L261.50,183.46 L261.77,188.45 L262.00,192.66 L262.50,201.25 L262.79,205.70 L263.00,208.79 L263.50,215.50 L263.81,218.94 L264.00,220.85 L264.50,225.32 L264.83,227.26 L265.00,227.96 L265.50,229.65 L265.85,230.10 L266.00,230.01 L266.50,228.74 L266.87,227.26 L267.00,226.63 L267.50,222.78 L267.89,218.94 L268.00,217.81 L268.50,211.60 L268.91,205.70 L269.00,204.39 L269.50,196.19 L269.93,188.45 L270.00,187.23 L270.50,177.56 L270.95,168.36 L271.00,167.42 L271.50,156.92 L271.98,146.80 L272.00,146.27 L272.50,135.61 L273.00,125.24 L273.00,125.16 L273.50,115.04 L274.00,105.45 L274.02,105.15 L274.50,96.54 L275.00,88.45 L275.04,87.90 L275.50,81.33 L276.00,75.26 L276.06,74.66 L276.50,70.36 L277.00,66.70 L277.08,66.34 L277.50,64.69 L278.00,63.54 L278.10,63.50 L278.50,64.07 L279.00,65.82 L279.12,66.34 L279.50,68.62 L280.00,73.17 L280.15,74.66 L280.50,78.60 L281.00,85.36 L281.17,87.90 L281.50,92.94 L282.00,101.55 L282.20,105.15 L282.50,110.76 L283.00,120.68 L283.23,125.24 L283.50,130.92 L284.00,141.51 L284.25,146.80 L284.50,152.09 L285.00,162.68 L285.27,168.36 L285.50,172.92 L286.00,182.84 L286.30,188.45 L286.50,192.05 L287.00,200.66 L287.32,205.70 L287.50,208.24 L288.00,215.00 L288.35,218.94 L288.50,220.43 L289.00,224.98 L289.38,227.26 L289.50,227.78 L290.00,229.53 L290.40,230.10 L290.50,230.06 L291.00,228.92 L291.42,227.26 L291.50,226.92 L292.00,223.30 L292.45,218.94 L292.50,218.43 L293.00,212.42 L293.48,205.70 L293.50,205.33 L294.00,197.31 L294.50,188.45 L295.00,178.93 L295.50,168.87 L295.52,168.36 L296.00,158.47 L296.50,147.85 L296.55,146.80 L297.00,137.25 L297.50,126.77 L297.57,125.24 L298.00,116.66 L298.50,106.98 L298.60,105.15 L299.00,98.02 L299.50,89.77 L299.62,87.90 L300.00,82.54 L300.50,76.24 L300.65,74.66 L301.00,71.22 L301.50,67.23 L301.67,66.34 L302.00,65.04 L302.50,63.65 L302.70,63.50 L303.00,63.83 L303.50,65.44 L303.71,66.31 L304.00,67.95 L304.50,72.31 L304.73,74.55 L305.00,77.58 L305.50,84.21 L305.74,87.65 L306.00,91.69 L306.50,100.22 L306.75,104.73 L307.00,109.39 L307.50,119.28 L307.76,124.61 L308.00,129.51 L308.50,140.11 L308.77,145.95 L309.00,150.72 L309.50,161.34 L309.79,167.29 L310.00,171.61 L310.50,181.55 L310.80,187.17 L311.00,190.78 L311.50,199.40 L311.81,204.25 L312.00,206.97 L312.50,213.71 L312.82,217.35 L313.00,219.10 L313.50,223.58 L313.84,225.59 L314.00,226.26 L314.50,227.95 L314.85,228.40 L315.00,228.31 L315.50,227.03 L315.86,225.59 L316.00,224.91 L316.50,221.03 L316.88,217.35 L317.00,216.04 L317.50,209.79 L317.89,204.25 L318.00,202.57 L318.50,194.32 L318.90,187.17 L319.00,185.34 L319.50,175.64 L319.91,167.29 L320.00,165.50 L320.50,154.98 L320.93,145.95 L321.00,144.37 L321.50,133.73 L321.94,124.61 L322.00,123.34 L322.50,113.28 L322.95,104.73 L323.00,103.82 L323.50,95.00 L323.96,87.65 L324.00,87.10 L324.50,80.10 L324.98,74.55 L325.00,74.30 L325.50,69.53 L325.99,66.31 L326.00,66.26 L326.50,64.36 L327.00,63.50 L327.50,65.34 L328.00,69.41 L328.10,70.30 L328.50,75.14 L329.00,83.81 L329.50,93.56 L329.60,95.46 L330.00,103.39 L330.50,114.15 L331.00,125.33 L331.20,129.80 L331.50,136.46 L332.00,147.68 L332.50,159.37 L332.75,165.50 L333.00,172.46 L333.50,187.93 L334.00,199.50 L334.50,206.07 L335.00,211.34 L335.50,215.37 L336.00,218.20 L336.50,220.39 L337.00,222.22 L337.50,223.32 L337.75,223.47 L338.00,223.32 L338.50,222.22 L339.00,220.39 L339.50,218.20 L340.00,214.96 L340.50,210.26 L341.00,204.85 L341.50,199.50 L342.00,194.54 L342.50,189.66 L343.00,184.62 L343.50,179.17 L344.00,173.10 L344.50,166.16 L344.60,164.65 L345.00,157.13 L345.50,145.39 L346.00,133.77 L346.20,129.80 L346.50,124.69 L347.00,117.40 L347.50,110.56 L348.00,102.95 L348.40,95.46 L348.50,93.06 L349.00,76.96 L349.30,70.30 L349.50,68.09 L350.00,64.11 L350.25,63.50 L350.50,64.14 L351.00,68.18 L351.20,70.30 L351.50,75.24 L352.00,87.88 L352.30,95.46 L352.50,100.02 L353.00,111.33 L353.50,122.77 L353.80,129.80 L354.00,134.26 L354.50,144.46 L355.00,157.31 L355.20,164.31 L355.50,182.50 L355.90,200.52 L356.00,202.34 L356.50,209.25 L357.00,212.77 L357.10,213.10 L357.50,214.11 L358.00,215.18 L358.50,216.04 L359.00,216.68 L359.50,217.11 L360.00,217.32 L360.25,217.35 L360.50,217.33 L361.00,217.14 L361.50,216.78 L362.00,216.28 L362.50,215.64 L363.00,214.88 L363.50,214.03 L364.00,213.10 L364.50,211.79 L365.00,209.83 L365.50,207.27 L366.00,204.15 L366.50,200.52 L367.00,195.27 L367.50,187.78 L368.00,178.86 L368.50,169.31 L368.70,165.50 L369.00,159.78 L369.50,149.50 L370.00,137.23 L370.20,131.50 L370.50,119.85 L371.00,97.52 L371.10,94.10 L371.50,82.59 L372.00,72.00 L372.50,64.85 L372.75,63.50 L373.00,64.81 L373.50,72.00 L374.00,83.93 L374.30,94.10 L374.50,103.70 L375.00,131.50 L375.50,146.75 L376.00,159.45 L376.20,165.50 L376.50,178.09 L377.00,198.58 L377.10,200.52 L377.50,204.98 L378.00,208.59 L378.40,210.55 L378.50,210.98 L379.00,213.02 L379.50,214.81 L380.00,216.34 L380.50,217.60 L381.00,218.56 L381.50,219.22 L382.00,219.70 L382.50,220.15 L383.00,220.56 L383.50,220.92 L384.00,221.22 L384.50,221.46 L385.00,221.64 L385.50,221.74 L385.90,221.77 L386.00,221.76 L386.50,221.58 L387.00,221.18 L387.50,220.58 L388.00,219.83 L388.50,218.97 L389.00,218.03 L389.50,216.76 L390.00,214.93 L390.50,212.65 L390.90,210.55 L391.00,209.99 L391.50,206.69 L392.00,201.78 L392.10,200.52 L392.50,192.66 L393.00,176.23 L393.50,153.65 L393.60,148.50 L394.00,113.84 L394.20,97.50 L394.50,78.45 L394.90,64.35 L395.00,65.44 L395.50,91.16 L395.60,97.50 L396.00,131.81 L396.20,148.50 L396.50,170.12 L397.00,198.06 L397.10,200.52 L397.50,206.00 L398.00,210.20 L398.40,213.10 L398.50,213.91 L399.00,217.96 L399.50,221.69 L400.00,224.56 L400.25,225.51 L400.50,226.23 L401.00,227.44 L401.50,228.42 L402.00,229.25 L402.50,229.98 L403.00,230.69 L403.50,231.46 L404.00,232.25 L404.50,232.99" stroke="#ff0000"/>
<path d="M78.00,98.35 L78.50,99.61 L79.00,101.19 L79.50,103.04 L80.00,105.09 L80.40,106.85 L80.50,107.31 L81.00,109.80 L81.50,112.68 L82.00,116.03 L82.25,117.90 L82.50,119.95 L83.00,124.70 L83.50,130.35 L84.00,136.88 L84.10,138.30 L84.50,145.52 L84.75,150.20 L85.00,154.12 L85.40,160.40 L85.50,162.17 L86.00,171.70 L86.30,179.10 L86.50,186.10 L87.00,208.00 L87.50,229.00 L87.60,230.10 L88.00,218.12 L88.20,208.00 L88.50,187.60 L89.00,168.90 L89.50,152.99 L89.75,147.48 L90.00,143.87 L90.50,139.15 L91.00,136.46 L91.50,135.24 L92.00,136.50 L92.40,137.96 L92.50,138.22 L93.00,139.32 L93.50,140.21 L94.00,141.06 L94.50,141.99 L95.00,143.17 L95.50,144.73 L95.60,145.10 L96.00,147.94 L96.50,153.22 L97.00,157.00 L97.50,158.47 L98.00,159.40 L98.50,160.06 L99.00,160.68 L99.50,161.53 L100.00,162.87 L100.25,163.80 L100.50,166.23 L101.00,174.12 L101.20,175.87 L101.50,176.90 L102.00,178.00 L102.50,178.71 L103.00,179.49 L103.50,180.80 L104.00,183.59 L104.50,187.93 L105.00,192.95 L105.50,197.80 L106.00,202.53 L106.50,207.46 L107.00,212.16 L107.25,214.29 L107.50,216.22 L108.00,219.67 L108.50,223.00 L109.00,226.70 L109.50,232.19 L109.75,233.30 L110.00,232.23 L110.50,225.00 L111.00,210.55 L111.50,203.37 L111.80,199.50 L112.00,195.97 L112.50,188.45 L113.00,186.72 L113.50,185.50 L114.00,184.78 L114.50,184.54 L115.00,185.02 L115.50,186.18 L116.00,187.60 L116.50,189.46 L117.00,192.00 L117.50,194.90 L118.00,197.85 L118.50,200.52 L119.00,202.95 L119.50,205.26 L119.75,206.30 L120.00,207.30 L120.50,209.30 L121.00,211.17 L121.50,212.77 L122.00,213.95 L122.50,214.81 L123.00,215.53 L123.50,216.09 L124.00,216.50 L124.50,216.76 L125.00,216.94 L125.50,217.12 L126.00,217.35 L126.50,217.68 L127.00,218.10 L127.50,218.56 L128.00,219.05 L128.50,219.50 L129.00,220.01 L129.50,220.75 L130.00,222.63 L130.50,225.60 L131.00,228.40 L131.50,231.10 L132.00,233.25 L132.20,233.30 L132.50,232.89 L133.00,230.03 L133.50,226.70 L134.00,223.28 L134.50,219.41 L135.00,216.08 L135.40,214.46 L135.50,214.22 L136.00,213.12 L136.50,212.22 L137.00,211.62 L137.50,211.40 L138.00,211.72 L138.50,212.42 L139.00,213.83 L139.50,216.01 L140.00,218.20 L140.50,220.23 L141.00,222.28 L141.50,224.16 L141.60,224.49 L142.00,225.79 L142.50,227.29 L143.00,228.40 L143.50,229.23 L144.00,229.94 L144.50,230.38 L144.75,230.44 L145.00,230.43 L145.50,230.40 L146.00,230.32 L146.50,230.22 L147.00,230.10 L147.50,229.70 L148.00,228.92 L148.50,227.99 L149.00,227.14 L149.50,226.61 L149.75,226.53 L150.00,226.57 L150.50,226.83 L151.00,227.27 L151.50,227.82 L152.00,228.40 L152.50,229.12 L153.00,230.04 L153.50,231.00 L154.00,231.80 L154.50,232.54 L155.00,233.21 L155.50,233.30 L156.00,232.62 L156.50,230.84 L157.00,229.42 L157.50,228.71 L158.00,228.14 L158.50,227.66 L159.00,227.20 L159.50,226.70 L160.00,226.11 L160.50,225.47 L161.00,224.91 L161.50,224.53 L161.60,224.49 L162.00,224.35 L162.50,224.21 L163.00,224.15 L163.50,224.51 L164.00,225.40 L164.50,226.51 L165.00,227.55 L165.50,228.60 L166.00,229.76 L166.50,230.79 L167.00,231.46 L167.50,231.85 L168.00,232.17 L168.50,232.40 L169.00,232.48 L169.50,232.40 L170.00,232.18 L170.50,231.88 L171.00,231.55 L171.50,231.25 L172.00,231.03 L172.50,230.95 L173.00,231.01 L173.50,231.19 L174.00,231.43 L174.50,231.71 L175.00,232.01 L175.50,232.27 L176.00,232.48 L176.50,232.65 L177.00,232.84 L177.50,233.01 L178.00,233.18 L178.50,233.30 L179.00,233.30 L179.50,233.30 L179.80,233.30 L180.00,233.30 L180.50,233.30 L181.00,233.09 L181.50,232.75 L182.00,232.38 L182.50,232.01 L183.00,231.69 L183.50,231.46 L184.00,231.28 L184.50,231.11 L185.00,230.99 L185.40,230.95 L185.50,230.95 L186.00,231.08 L186.50,231.33 L187.00,231.63 L187.50,231.93 L188.00,232.14 L188.50,232.29 L189.00,232.44 L189.50,232.58 L190.00,232.71 L190.50,232.83 L191.00,232.91 L191.50,232.97 L192.00,232.99 L192.50,232.99 L193.00,232.99 L193.50,232.99 L194.00,232.99 L194.50,232.99 L195.00,232.99 L195.50,232.99 L196.00,232.99 L196.50,232.99 L197.00,232.99 L197.50,232.99 L198.00,232.99 L198.50,233.00 L199.00,233.02 L199.50,233.06 L200.00,233.11 L200.50,233.16 L201.00,233.22 L201.50,233.28 L202.00,233.30 L202.50,233.30 L203.00,233.30 L203.50,233.30 L204.00,233.30 L204.40,233.30 L204.50,233.30 L205.00,233.30 L205.50,233.30 L206.00,233.30 L206.50,233.30 L207.00,233.30 L207.50,233.24 L208.00,233.17 L208.50,233.12 L209.00,233.06 L209.50,233.02 L210.00,232.99 L210.50,232.97 L211.00,232.95 L211.50,232.93 L212.00,232.91 L212.50,232.89 L213.00,232.87 L213.50,232.86 L214.00,232.84 L214.50,232.83 L215.00,232.83 L215.50,232.82 L216.00,232.82 L216.50,232.82 L217.00,232.83 L217.50,232.84 L218.00,232.85 L218.50,232.86 L219.00,232.87 L219.50,232.89 L220.00,232.91 L220.50,232.93 L221.00,232.95 L221.50,232.97 L222.00,232.99 L222.50,233.02 L223.00,233.05 L223.50,233.09 L224.00,233.13 L224.50,233.18 L225.00,233.23 L225.50,233.28 L226.00,233.30 L226.50,233.30 L227.00,233.30 L227.50,233.30 L228.00,233.30 L228.50,233.30 L228.90,233.30 L229.00,233.30 L229.50,233.30 L230.00,233.30 L230.50,233.30 L231.00,233.30 L231.50,233.26 L232.00,233.19 L232.50,233.11 L233.00,233.03 L233.50,232.96 L234.00,232.90 L234.50,232.85 L235.00,232.82 L235.50,232.80 L236.00,232.78 L236.50,232.76 L237.00,232.74 L237.50,232.72 L238.00,232.70 L238.50,232.69 L239.00,232.68 L239.50,232.67 L240.00,232.66 L240.50,232.65 L241.00,232.65 L241.25,232.65 L241.50,232.65 L242.00,232.65 L242.50,232.66 L243.00,232.67 L243.50,232.68 L244.00,232.69 L244.50,232.70 L245.00,232.72 L245.50,232.74 L246.00,232.76 L246.50,232.78 L247.00,232.80 L247.50,232.82 L248.00,232.85 L248.50,232.90 L249.00,232.96 L249.50,233.03 L250.00,233.11 L250.50,233.19 L251.00,233.26 L251.50,233.30 L252.00,233.30 L252.50,233.30 L253.00,233.30 L253.50,233.30 L253.60,233.30 L254.00,233.30 L254.50,233.30 L255.00,233.30 L255.50,233.30 L256.00,233.30 L256.50,233.30 L257.00,233.28 L257.50,233.23 L258.00,233.18 L258.50,233.13 L259.00,233.09 L259.50,233.05 L260.00,233.02 L260.50,232.99 L261.00,232.97 L261.50,232.95 L262.00,232.93 L262.50,232.91 L263.00,232.89 L263.50,232.87 L264.00,232.86 L264.50,232.85 L265.00,232.84 L265.50,232.83 L266.00,232.82 L266.50,232.82 L267.00,232.82 L267.50,232.83 L268.00,232.83 L268.50,232.84 L269.00,232.86 L269.50,232.87 L270.00,232.89 L270.50,232.91 L271.00,232.93 L271.50,232.95 L272.00,232.97 L272.50,232.99 L273.00,233.02 L273.50,233.06 L274.00,233.12 L274.50,233.17 L275.00,233.24 L275.50,233.30 L276.00,233.30 L276.50,233.30 L277.00,233.30 L277.50,233.30 L278.00,233.30 L278.10,233.30 L278.50,233.30 L279.00,233.30 L279.50,233.30 L280.00,233.30 L280.50,233.30 L281.00,233.28 L281.50,233.22 L282.00,233.16 L282.50,233.11 L283.00,233.06 L283.50,233.02 L284.00,233.00 L284.50,232.99 L285.00,232.99 L285.50,232.99 L286.00,232.99 L286.50,232.99 L287.00,232.99 L287.50,232.99 L288.00,232.99 L288.50,232.99 L289.00,232.99 L289.50,232.99 L290.00,232.99 L290.50,232.99 L291.00,232.97 L291.50,232.91 L292.00,232.83 L292.50,232.71 L293.00,232.58 L293.50,232.44 L294.00,232.29 L294.50,232.14 L295.00,231.93 L295.50,231.63 L296.00,231.33 L296.50,231.08 L297.00,230.95 L297.10,230.95 L297.50,230.99 L298.00,231.11 L298.50,231.28 L299.00,231.46 L299.50,231.69 L300.00,232.01 L300.50,232.38 L301.00,232.75 L301.50,233.09 L302.00,233.30 L302.50,233.30 L302.70,233.30 L303.00,233.30 L303.50,233.30 L304.00,233.30 L304.50,233.18 L305.00,233.01 L305.50,232.84 L306.00,232.65 L306.50,232.48 L307.00,232.27 L307.50,232.01 L308.00,231.71 L308.50,231.43 L309.00,231.19 L309.50,231.01 L310.00,230.95 L310.50,231.03 L311.00,231.25 L311.50,231.55 L312.00,231.88 L312.50,232.18 L313.00,232.40 L313.50,232.48 L314.00,232.40 L314.50,232.17 L315.00,231.85 L315.50,231.46 L316.00,230.79 L316.50,229.76 L317.00,228.60 L317.50,227.55 L318.00,226.51 L318.50,225.40 L319.00,224.51 L319.50,224.15 L320.00,224.21 L320.50,224.35 L320.90,224.49 L321.00,224.53 L321.50,224.91 L322.00,225.47 L322.50,226.11 L323.00,226.70 L323.50,227.20 L324.00,227.66 L324.50,228.14 L325.00,228.71 L325.50,229.42 L326.00,230.84 L326.50,232.62 L327.00,233.30 L327.50,233.21 L328.00,232.54 L328.50,231.80 L329.00,231.00 L329.50,230.04 L330.00,229.12 L330.50,228.40 L331.00,227.82 L331.50,227.27 L332.00,226.83 L332.50,226.57 L332.75,226.53 L333.00,226.61 L333.50,227.14 L334.00,227.99 L334.50,228.92 L335.00,229.70 L335.50,230.10 L336.00,230.22 L336.50,230.32 L337.00,230.40 L337.50,230.43 L337.75,230.44 L338.00,230.38 L338.50,229.94 L339.00,229.23 L339.50,228.40 L340.00,227.29 L340.50,225.79 L340.90,224.49 L341.00,224.16 L341.50,222.28 L342.00,220.23 L342.50,218.20 L343.00,216.01 L343.50,213.83 L344.00,212.42 L344.50,211.72 L345.00,211.40 L345.50,211.62 L346.00,212.22 L346.50,213.12 L347.00,214.22 L347.10,214.46 L347.50,216.08 L348.00,219.41 L348.50,223.28 L349.00,226.70 L349.50,230.03 L350.00,232.89 L350.30,233.30 L350.50,233.25 L351.00,231.10 L351.50,228.40 L352.00,225.60 L352.50,222.63 L353.00,220.75 L353.50,220.01 L354.00,219.50 L354.50,219.05 L355.00,218.56 L355.50,218.10 L356.00,217.68 L356.50,217.35 L357.00,217.12 L357.50,216.94 L358.00,216.76 L358.50,216.50 L359.00,216.09 L359.50,215.53 L360.00,214.81 L360.50,213.95 L361.00,212.77 L361.50,211.17 L362.00,209.30 L362.50,207.30 L362.75,206.30 L363.00,205.26 L363.50,202.95 L364.00,200.52 L364.50,197.85 L365.00,194.90 L365.50,192.00 L366.00,189.46 L366.50,187.60 L367.00,186.18 L367.50,185.02 L368.00,184.54 L368.50,184.78 L369.00,185.50 L369.50,186.72 L370.00,188.45 L370.50,195.97 L370.70,199.50 L371.00,203.37 L371.50,210.55 L372.00,225.00 L372.50,232.23 L372.75,233.30 L373.00,232.19 L373.50,226.70 L374.00,223.00 L374.50,219.67 L375.00,216.22 L375.25,214.29 L375.50,212.16 L376.00,207.46 L376.50,202.53 L377.00,197.80 L377.50,192.95 L378.00,187.93 L378.50,183.59 L379.00,180.80 L379.50,179.49 L380.00,178.71 L380.50,178.00 L381.00,176.90 L381.30,175.87 L381.50,174.12 L382.00,166.23 L382.25,163.80 L382.50,162.87 L383.00,161.53 L383.50,160.68 L384.00,160.06 L384.50,159.40 L385.00,158.47 L385.50,157.00 L386.00,153.22 L386.50,147.94 L386.90,145.10 L387.00,144.73 L387.50,143.17 L388.00,141.99 L388.50,141.06 L389.00,140.21 L389.50,139.32 L390.00,138.22 L390.10,137.96 L390.50,136.50 L391.00,135.24 L391.50,136.46 L392.00,139.15 L392.50,143.87 L392.75,147.48 L393.00,152.99 L393.50,168.90 L394.00,187.60 L394.30,208.00 L394.50,218.12 L394.90,230.10 L395.00,227.82 L395.30,208.00 L395.50,193.26 L395.70,179.10 L396.00,163.79 L396.10,160.40 L396.50,152.72 L396.65,150.20 L397.00,143.44 L397.30,138.30 L397.50,135.51 L398.00,129.15 L398.50,123.68 L399.00,119.10 L399.15,117.90 L399.50,115.21 L400.00,111.65 L400.50,108.74 L401.00,106.85 L401.50,105.65 L402.00,104.56 L402.50,103.62 L403.00,102.84 L403.50,102.25 L404.00,101.88 L404.50,101.75" stroke="#cc6600" stroke-dasharray="8 12.4"/>
<!-- legend -->
<path d="M129.6,32 H173" stroke="#007d1e" stroke-dasharray="4.2 5.55"/>
<path d="M129.6,49.1 H173" stroke="#0000ff" stroke-dasharray="23.4 7.8 4.1 7.3"/>
<path d="M339.75,32 H384" stroke="#ff0000"/>
<path d="M339.75,49.1 H384" stroke="#cc6600" stroke-dasharray="8 11.4"/>
</g>
<!-- frame and ticks -->
<g fill="none" stroke="#000" stroke-width="1">
<path d="M78,20.5 H404.5 V233.5 H78 Z"/>
<path d="M78,63.5h3.2M78,105.5h3.2M78,148.5h3.2M78,190.5h3.2 M404.5,63.5h-3.2M404.5,105.5h-3.2M404.5,148.5h-3.2M404.5,190.5h-3.2" stroke="#222" stroke-width="0.9"/>
<path d="M159.6,233.5v-3.2M241.25,233.5v-3.2M322.9,233.5v-3.2 M159.6,20.5v3.2M241.25,20.5v3.2M322.9,20.5v3.2" stroke="#222" stroke-width="0.9"/>
</g>
<!-- text -->
<text transform="translate(4.6,18.2) scale(0.93,1.0)" text-anchor="start" xml:space="preserve" style="font-size:18.3px">(b)</text>
<text transform="translate(71.7,26.2) scale(1.045,1.0)" text-anchor="end" xml:space="preserve">1.25</text>
<text transform="translate(71.7,68.8) scale(1.045,1.0)" text-anchor="end" xml:space="preserve">1</text>
<text transform="translate(71.7,111.4) scale(1.045,1.0)" text-anchor="end" xml:space="preserve">0.75</text>
<text transform="translate(71.7,154) scale(1.045,1.0)" text-anchor="end" xml:space="preserve">0.5</text>
<text transform="translate(71.7,196.6) scale(1.045,1.0)" text-anchor="end" xml:space="preserve">0.25</text>
<text transform="translate(71.7,239) scale(1.045,1.0)" text-anchor="end" xml:space="preserve">0</text>
<text transform="translate(78,252.7) scale(1.045,1.0)" text-anchor="middle" xml:space="preserve">-1</text>
<text transform="translate(159.6,252.7) scale(1.045,1.0)" text-anchor="middle" xml:space="preserve">-0.5</text>
<text transform="translate(241.25,252.7) scale(1.045,1.0)" text-anchor="middle" xml:space="preserve"> 0</text>
<text transform="translate(322.9,252.7) scale(1.045,1.0)" text-anchor="middle" xml:space="preserve"> 0.5</text>
<text transform="translate(404.5,252.7) scale(1.045,1.0)" text-anchor="middle" xml:space="preserve"> 1</text>
<text transform="translate(241.3,273.3) scale(1.045,1.0)" text-anchor="middle" xml:space="preserve">μ/t</text>
<text transform="translate(28.2,126) rotate(-90) scale(0.985,1.0)" text-anchor="middle" xml:space="preserve" style="font-size:17.4px">Probabilities</text>
<text transform="translate(119.3,37.6) scale(1.045,1.0)" text-anchor="end" xml:space="preserve">AR</text>
<text transform="translate(119.3,54.4) scale(1.045,1.0)" text-anchor="end" xml:space="preserve">CAR</text>
<text transform="translate(329.3,37.6) scale(1.045,1.0)" text-anchor="end" xml:space="preserve">ER</text>
<text transform="translate(329.3,54.4) scale(1.045,1.0)" text-anchor="end" xml:space="preserve">ET</text>
</svg>
</body></html>
